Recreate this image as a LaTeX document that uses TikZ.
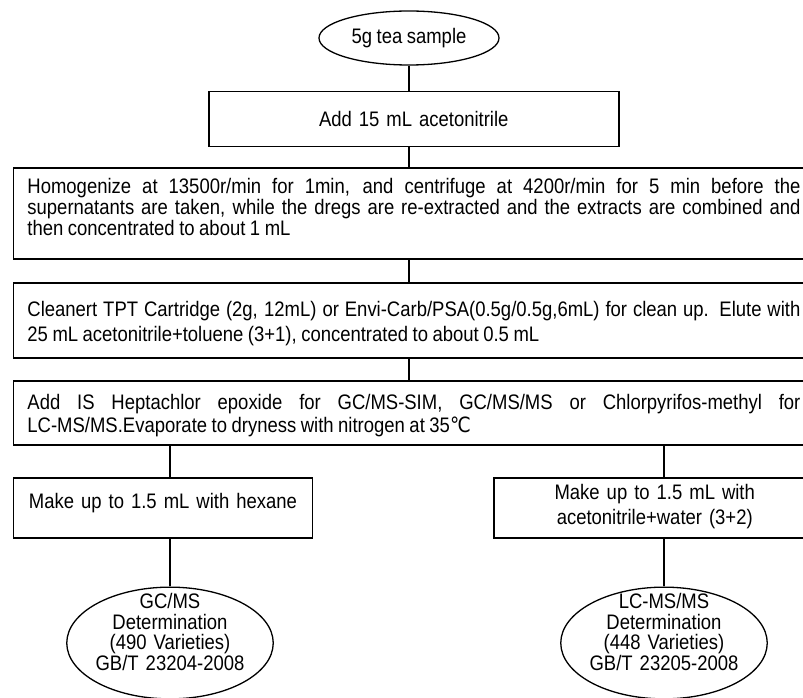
\documentclass[tikz,border=0pt]{standalone}
\usepackage{fontspec}
\setmainfont{Liberation Sans}[FakeStretch=0.88, WordSpace=0.88]
\newfontfamily\symfont{DejaVu Sans}[FakeStretch=0.88]
\usetikzlibrary{shapes.geometric}

\tikzset{
    procbox/.style={draw, line width=1.5pt, anchor=north west, inner xsep=14pt, inner ysep=0pt,
        text width=773pt, align=justify},
    smallbox/.style={draw, line width=1.5pt, anchor=north west, inner sep=0pt, align=center},
    detell/.style={draw, ellipse, line width=1.3pt, inner xsep=-5pt, inner ysep=-10pt,
        text width=156pt, align=center, text height=15pt, text depth=84pt,
        font=\fontsize{21}{20.5}\selectfont},
    link/.style={line width=2pt}
}

\begin{document}
\begin{tikzpicture}[x=1pt, y=-1pt, font=\fontsize{21}{21}\selectfont]
    \useasboundingbox (0,0) rectangle (803,698);
    \clip (0,0) rectangle (803,698);

    % Sample
    \node[draw, ellipse, line width=1.3pt, inner sep=0pt, minimum width=180pt, minimum height=54pt]
        (sample) at (409,38) {5g tea sample};

    % Extraction
    \node[smallbox, text width=410pt, text height=35pt, text depth=20pt] (add) at (208,91)
        {Add 15 mL acetonitrile};
    \node[procbox, text height=26pt, text depth=65pt, font=\fontsize{21}{21}\selectfont] (homog) at (12.7,167)
        {Homogenize at 13500r/min for 1min, and centrifuge at 4200r/min for 5 min before the\linebreak
         supernatants are taken, while the dregs are re-extracted and the extracts are combined and\linebreak
         then concentrated to about 1 mL};

    % Clean up
    \node[procbox, text height=34pt, text depth=41pt, font=\fontsize{21}{25}\selectfont] (clean) at (12.7,282)
        {Cleanert TPT Cartridge (2g, 12mL) or Envi-Carb/PSA(0.5g/0.5g,6mL) for clean up. Elute with\linebreak
         25 mL acetonitrile+toluene (3+1), concentrated to about 0.5 mL};
    \node[procbox, text height=29pt, text depth=35pt, font=\fontsize{21}{23}\selectfont] (addis) at (12.7,380)
        {Add IS Heptachlor epoxide for GC/MS-SIM, GC/MS/MS or Chlorpyrifos-methyl for\linebreak
         LC-MS/MS.Evaporate to dryness with nitrogen at 35{\symfont ℃}};

    % Two branches
    \node[smallbox, text width=299pt, text height=31pt, text depth=29pt] (hexbox) at (12.7,477)
        {Make up to 1.5 mL with hexane};
    \node[smallbox, text width=322pt, text height=22pt, text depth=38pt, font=\fontsize{21}{25}\selectfont]
        (acnbox) at (493,477) {Make up to 1.5 mL with\\acetonitrile+water (3+2)};

    % Determination
    \node[detell] (gcdet) at (170,643) {GC/MS\\Determination\\(490 Varieties)\\GB/T 23204-2008};
    \node[detell] (lcdet) at (664,643) {LC-MS/MS\\Determination\\(448 Varieties)\\GB/T 23205-2008};

    % Connectors
    \draw[link] (sample.south) -- (sample.south |- add.north);
    \draw[link] (sample.south |- add.south) -- (sample.south |- homog.north);
    \draw[link] (sample.south |- homog.south) -- (sample.south |- clean.north);
    \draw[link] (sample.south |- clean.south) -- (sample.south |- addis.north);
    \draw[link] (gcdet.north |- addis.south) -- (gcdet.north |- hexbox.north);
    \draw[link] (gcdet.north |- hexbox.south) -- (gcdet.north);
    \draw[link] (lcdet.north |- addis.south) -- (lcdet.north |- acnbox.north);
    \draw[link] (lcdet.north |- acnbox.south) -- (lcdet.north);
\end{tikzpicture}
\end{document}
